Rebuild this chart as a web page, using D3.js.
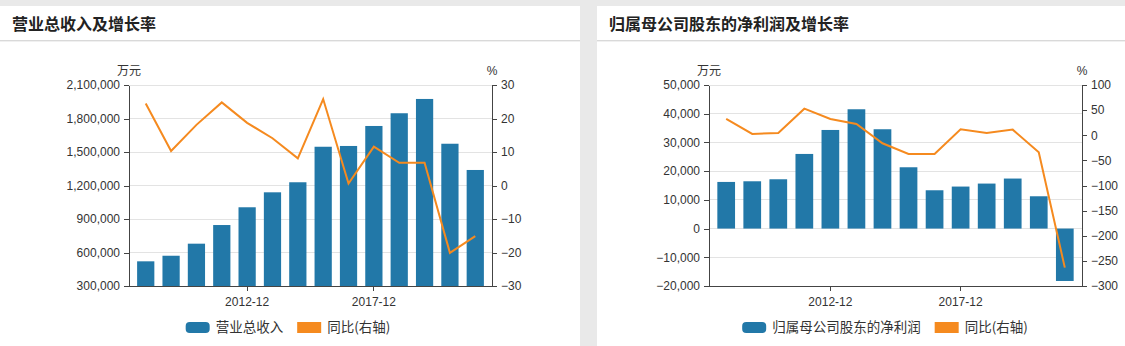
<!DOCTYPE html>
<html>
<head>
<meta charset="utf-8">
<script src="https://cdn.jsdelivr.net/npm/d3@7"></script>
<style>
  body { margin: 0; background: #e9e9e9; }
  svg { display: block; }
</style>
</head>
<body>
<svg id="chart" width="1125" height="346"></svg>
<script>
const periods = ["2008-12", "2009-12", "2010-12", "2011-12", "2012-12", "2013-12", "2014-12",
  "2015-12", "2016-12", "2017-12", "2018-12", "2019-12", "2020-12", "2021-12"];
const xTickLabels = ["2012-12", "2017-12"];

const revenue = [521000, 571000, 679000, 846000, 1005000, 1139000, 1229000,
  1547000, 1554000, 1733000, 1847000, 1975000, 1574000, 1339000];
const revenueYoY = [24.5, 10.3, 18.1, 24.8, 18.7, 14.1, 8.1, 25.8, 0.6, 11.6, 6.8, 6.8, -20.1, -15.1];
const revenueTicks = [300000, 600000, 900000, 1200000, 1500000, 1800000, 2100000];
const revenueYoYTicks = [-30, -20, -10, 0, 10, 20, 30];

const profit = [16240, 16470, 17170, 25990, 34340, 41550, 34590,
  21350, 13340, 14630, 15670, 17420, 11250, -18250];
const profitYoY = [32.4, 2.6, 4.6, 52.9, 32.4, 22.5, -16, -37.2, -37.2, 11.9, 4.6, 11.2, -33.9, -263.4];
const profitTicks = [-20000, -10000, 0, 10000, 20000, 30000, 40000, 50000];
const profitYoYTicks = [-300, -250, -200, -150, -100, -50, 0, 50, 100];

const BAR = "#2278a8";
const LINE = "#f58a1f";
const TEXT = "#333";
const NUM_FONT = "'Liberation Sans', Arial, sans-serif";
const CJK_FONT = "'Noto Sans CJK SC', sans-serif";

const svg = d3.select("#chart");

const panels = [
  {
    x: 0, title: "营业总收入及增长率", legend: "营业总收入",
    bars: revenue, line: revenueYoY, leftTicks: revenueTicks, rightTicks: revenueYoYTicks,
    plot: { left: 129, right: 492, top: 85, bottom: 286 }
  },
  {
    x: 597, title: "归属母公司股东的净利润及增长率", legend: "归属母公司股东的净利润",
    bars: profit, line: profitYoY, leftTicks: profitTicks, rightTicks: profitYoYTicks,
    plot: { left: 112, right: 485, top: 85, bottom: 286 }
  }
];

function drawPanel(p) {
  const g = svg.append("g").attr("transform", `translate(${p.x},0)`);
  const cardW = 580;

  // card + header
  g.append("rect").attr("x", 0).attr("y", 6).attr("width", cardW).attr("height", 360).attr("fill", "#fff");
  g.append("rect").attr("x", 0).attr("y", 40).attr("width", cardW).attr("height", 1).attr("fill", "#d9d9d9");
  g.append("rect").attr("x", 0).attr("y", 41).attr("width", cardW).attr("height", 1).attr("fill", "#f0f0f0");
  g.append("text")
    .attr("x", 12).attr("y", 30)
    .attr("font-family", CJK_FONT).attr("font-size", 16).attr("font-weight", 700)
    .attr("fill", "#222")
    .text(p.title);

  const { left, right, top, bottom } = p.plot;

  const x = d3.scaleBand().domain(periods).range([left, right]).paddingInner(0.32).paddingOuter(0.32);
  const yL = d3.scaleLinear().domain(d3.extent(p.leftTicks)).range([bottom, top]);
  const yR = d3.scaleLinear().domain(d3.extent(p.rightTicks)).range([bottom, top]);
  const base = Math.max(yL.domain()[0], 0);

  // grid
  g.append("g").selectAll("line")
    .data(p.leftTicks.filter((t) => t !== p.leftTicks[0]))
    .join("line")
    .attr("x1", left).attr("x2", right)
    .attr("y1", (d) => yL(d)).attr("y2", (d) => yL(d))
    .attr("stroke", "#e3e3e3").attr("stroke-width", 1)
    .attr("shape-rendering", "crispEdges");

  // bars
  g.append("g").selectAll("rect")
    .data(p.bars)
    .join("rect")
    .attr("x", (d, i) => x(periods[i]))
    .attr("width", x.bandwidth())
    .attr("y", (d) => yL(Math.max(base, d)))
    .attr("height", (d) => Math.abs(yL(d) - yL(base)))
    .attr("fill", BAR);

  // line
  const line = d3.line()
    .x((d, i) => x(periods[i]) + x.bandwidth() / 2)
    .y((d) => yR(d));
  g.append("path")
    .datum(p.line)
    .attr("d", line)
    .attr("fill", "none")
    .attr("stroke", LINE)
    .attr("stroke-width", 2);

  // axes
  const styleAxis = (a) => {
    a.selectAll(".domain, .tick line").attr("stroke", "#444").attr("shape-rendering", "crispEdges");
    a.selectAll("text").attr("fill", TEXT).attr("font-family", NUM_FONT).attr("font-size", 12);
  };

  g.append("g")
    .attr("transform", `translate(${left},0)`)
    .call(d3.axisLeft(yL).tickValues(p.leftTicks).tickFormat(d3.format(",")).tickSize(5).tickSizeOuter(0).tickPadding(4))
    .call(styleAxis);

  g.append("g")
    .attr("transform", `translate(${right},0)`)
    .call(d3.axisRight(yR).tickValues(p.rightTicks).tickSize(5).tickSizeOuter(0).tickPadding(4))
    .call(styleAxis);

  g.append("g")
    .attr("transform", `translate(0,${bottom})`)
    .call(d3.axisBottom(x).tickValues(xTickLabels).tickSize(5).tickSizeOuter(0).tickPadding(6))
    .call(styleAxis);

  // units
  g.append("text").attr("x", left).attr("y", 75).attr("text-anchor", "middle")
    .attr("font-family", CJK_FONT).attr("font-size", 12).attr("fill", TEXT).text("万元");
  g.append("text").attr("x", right).attr("y", 75).attr("text-anchor", "middle")
    .attr("font-family", NUM_FONT).attr("font-size", 12).attr("fill", TEXT).text("%");

  // legend
  const items = [
    { label: p.legend, color: BAR, rx: 4 },
    { label: "同比(右轴)", color: LINE, rx: 0 }
  ];
  const lg = g.append("g");
  let cx = 0;
  items.forEach((it) => {
    const ig = lg.append("g").attr("transform", `translate(${cx},0)`);
    ig.append("rect").attr("x", 0).attr("y", -5.5).attr("width", 24).attr("height", 11)
      .attr("rx", it.rx).attr("fill", it.color);
    const t = ig.append("text").attr("x", 30).attr("y", 0).attr("dy", "0.35em")
      .attr("font-family", CJK_FONT).attr("font-size", 13.5).attr("fill", TEXT)
      .text(it.label);
    cx += 30 + t.node().getComputedTextLength() + 14;
  });
  const total = cx - 14;
  lg.attr("transform", `translate(${288 - total / 2},327.5)`);
}

panels.forEach(drawPanel);
</script>
</body>
</html>
